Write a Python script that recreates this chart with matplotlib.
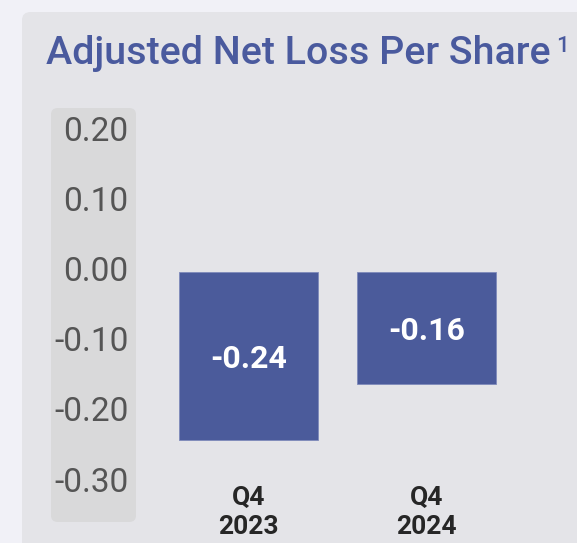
import matplotlib
matplotlib.use("Agg")
import matplotlib.pyplot as plt
from matplotlib.patches import FancyBboxPatch

# data
categories = ["Q4\n2023", "Q4\n2024"]
values = [-0.24, -0.16]
bar_labels = ["-0.24", "-0.16"]
yticks = [0.20, 0.10, 0.00, -0.10, -0.20, -0.30]
ytick_labels = ["0.20", "0.10", "0.00", "-0.10", "-0.20", "-0.30"]

plt.rcParams['font.family'] = ['Roboto', 'DejaVu Sans']

W, H = 577, 543
fig = plt.figure(figsize=(W / 100, H / 100), dpi=100)
fig.patch.set_facecolor('#f1f1f7')

def fx(px):
    return px / W

def fy(py):
    return 1 - py / H

# card background
card = FancyBboxPatch((fx(22), fy(560)), fx(600), 548 / H,
                      boxstyle="round,pad=0,rounding_size=0.015",
                      transform=fig.transFigure, facecolor='#e4e4e8',
                      edgecolor='none', zorder=0)
fig.patches.append(card)

# panel behind the y labels
panel = FancyBboxPatch((fx(51), fy(522)), fx(85), (522 - 108) / H,
                       boxstyle="round,pad=0,rounding_size=0.012",
                       transform=fig.transFigure, facecolor='#d9d9da',
                       edgecolor='none', zorder=0.5)
fig.patches.append(panel)

# title
fig.text(fx(46), fy(64), "Adjusted Net Loss Per Share", fontsize=28.4,
         fontweight='medium', color='#4a5a9e', ha='left', va='baseline')
fig.text(fx(556), fy(52), "1", fontsize=16, fontweight='medium',
         color='#4a5a9e', ha='left', va='baseline')

# axes placed so that 0 sits at y=272px and 0.1 = 70px
ymin, ymax = -0.305, 0.23
scale = 702.0
top_px = 272 - ymax * scale
bot_px = 272 - ymin * scale
ax = fig.add_axes([fx(136), fy(bot_px), fx(441), (bot_px - top_px) / H])
ax.set_zorder(2)
ax.set_facecolor('none')
ax.set_ylim(ymin, ymax)
step = 178.4
ax.set_xlim((136 - 248.3) / step, (577 - 248.3) / step)

x = list(range(len(categories)))
ax.bar(x, values, width=139 / step, color='#4b5b9b',
       edgecolor='#7f8aba', linewidth=0.6, zorder=3)

for xi, v, lab in zip(x, values, bar_labels):
    ax.text(xi, v / 2, lab, color='white', fontsize=23, fontweight='bold',
            ha='center', va='center_baseline', zorder=4)

ax.set_yticks(yticks)
ax.set_yticklabels(ytick_labels, fontsize=24, color='#555555',
                   va='center')
ax.set_xticks(x)
ax.set_xticklabels(categories, fontsize=19, fontweight='bold',
                   color='#262626', linespacing=1.25)
ax.tick_params(axis='y', length=0, pad=5.4)
ax.tick_params(axis='x', length=0, pad=0)
for s in ax.spines.values():
    s.set_visible(False)

fig.savefig('out.png', dpi=100, facecolor=fig.get_facecolor())
